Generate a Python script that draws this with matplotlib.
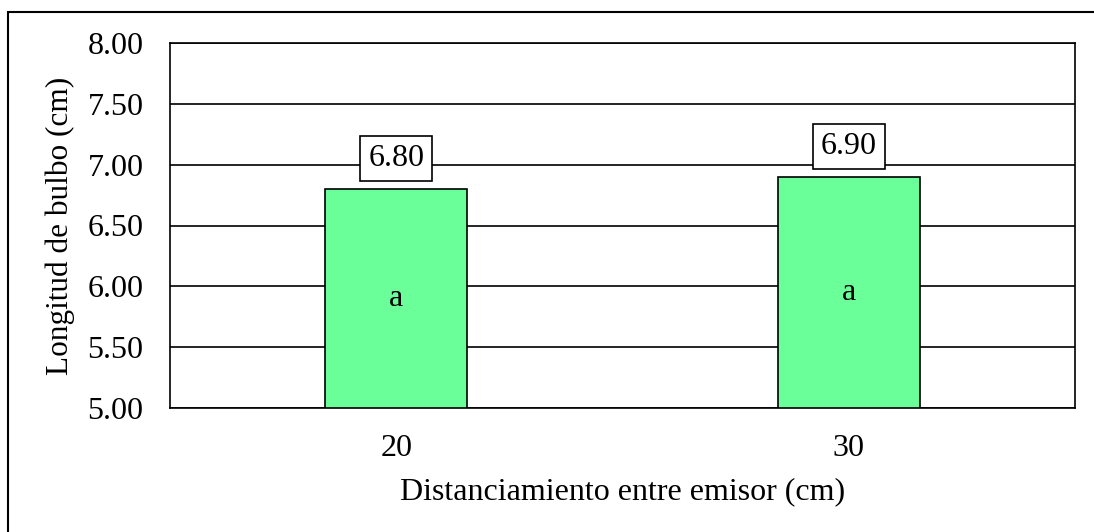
import matplotlib.pyplot as plt
import numpy as np
from matplotlib.patches import Rectangle

plt.rcParams["font.family"] = ["Liberation Serif", "DejaVu Serif"]

distancias = ["20", "30"]
longitud = [6.80, 6.90]
letras = ["a", "a"]

fig = plt.figure(figsize=(10.94, 5.32), dpi=100)
ax = fig.add_axes([170 / 1094, 1 - 408 / 532, 905 / 1094, 365 / 532])

# outer frame of the figure
fig.patches.append(Rectangle((8 / 1094, -0.05), 1.2, 1 - 12 / 532 + 0.05,
                             transform=fig.transFigure, fill=False,
                             edgecolor="black", linewidth=1.5))

x = np.arange(len(distancias))
ax.bar(x, [v - 5 for v in longitud], 0.314, bottom=5, color="#6BFF9A",
       edgecolor="black", linewidth=1.2, zorder=3)

for xi, v, l in zip(x, longitud, letras):
    ax.text(xi, v + 0.25, f"{v:.2f}", ha="center", va="center", fontsize=23,
            bbox=dict(boxstyle="square,pad=0.25", facecolor="white",
                      edgecolor="black", linewidth=1.2), zorder=4)
    ax.text(xi, (5 + v) / 2, l, ha="center", va="center", fontsize=23, zorder=4)

ax.set_xlim(-0.5, 1.5)
ax.set_ylim(5, 8)
ticks = np.arange(5, 8.01, 0.5)
ax.set_yticks(ticks)
ax.set_yticklabels([f"{t:.2f}" for t in ticks])
ax.set_xticks(x)
ax.set_xticklabels(distancias)
ax.tick_params(length=0, labelsize=23)
ax.tick_params(axis="y", pad=19)
ax.tick_params(axis="x", pad=19)
ax.yaxis.grid(True, color="black", linewidth=1.2, zorder=0)
for s in ax.spines.values():
    s.set_linewidth(1.2)

ax.set_xlabel("Distanciamiento entre emisor (cm)", fontsize=23, va="center")
ax.xaxis.set_label_coords(0.5, (408 - 492) / 365)
ax.set_ylabel("Longitud de bulbo (cm)", fontsize=22.5, va="center")
ax.yaxis.set_label_coords((60 - 170) / 905, 0.5)

fig.savefig("out.png", dpi=100)
